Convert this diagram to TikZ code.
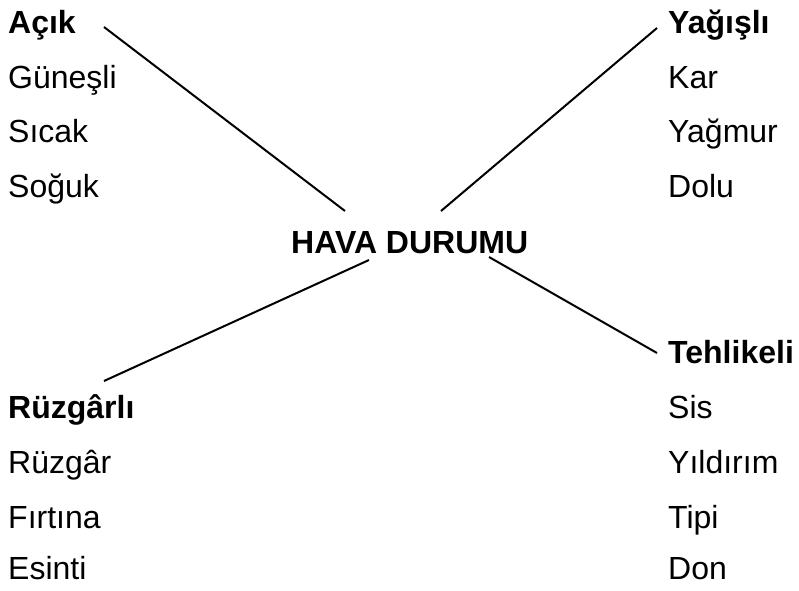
\documentclass[tikz,border=0pt]{standalone}
\usepackage{fontspec}
\setmainfont{Liberation Sans}
\usepackage{tikz}

\tikzset{
  word/.style={anchor=base west, inner sep=0pt, font=\fontsize{32}{38}\selectfont},
  head/.style={word, font=\fontsize{32}{38}\selectfont\bfseries},
  link/.style={line width=2pt}
}

\begin{document}
\begin{tikzpicture}[x=1pt,y=-1pt]
                \useasboundingbox (0,0) rectangle (799,590);
                % centre
                \node[head] (hava) at (291,253) {HAVA DURUMU};
                % top left
                \node[head] (acik) at (8,33) {Açık};
                \node[word] (gunesli) at (8,88) {Güneşli};
                \node[word] (sicak) at (8,142) {Sıcak};
                \node[word] (soguk) at (8,197) {Soğuk};
                % top right
                \node[head] (yagisli) at (668,33) {Yağışlı};
                \node[word] (kar) at (668,88) {Kar};
                \node[word] (yagmur) at (668,142) {Yağmur};
                \node[word] (dolu) at (668,197) {Dolu};
                % bottom left
                \node[head] (ruzgarli) at (8,418) {Rüzgârlı};
                \node[word] (ruzgar) at (8,473) {Rüzgâr};
                \node[word] (firtina) at (8,528) {Fırtına};
                \node[word] (esinti) at (8,579) {Esinti};
                % bottom right
                \node[head] (tehlikeli) at (668,363) {Tehlikeli};
                \node[word] (sis) at (668,418) {Sis};
                \node[word] (yildirim) at (668,473) {Yıldırım};
                \node[word] (tipi) at (668,528) {Tipi};
                \node[word] (don) at (668,579) {Don};
                % line ends
                \coordinate (acik-end) at (104,27);
                \coordinate (hava-nw) at (345,211);
                \coordinate (yagisli-end) at (657,28);
                \coordinate (hava-ne) at (441,211);
                \coordinate (ruzgarli-end) at (104,381);
                \coordinate (hava-sw) at (369,260);
                \coordinate (tehlikeli-end) at (657,353);
                \coordinate (hava-se) at (489,257);
                \draw[link] (acik-end) -- (hava-nw);
                \draw[link] (yagisli-end) -- (hava-ne);
                \draw[link] (ruzgarli-end) -- (hava-sw);
                \draw[link] (tehlikeli-end) -- (hava-se);
            \end{tikzpicture}
\end{document}
